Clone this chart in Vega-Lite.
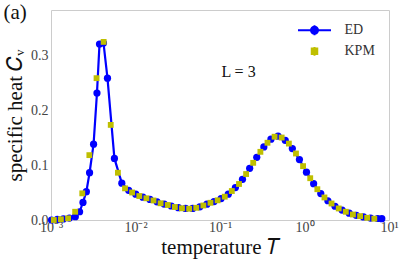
{
  "$schema": "https://vega.github.io/schema/vega-lite/v6.json",
  "autosize": "none",
  "width": 338,
  "height": 210,
  "padding": {"left": 51, "top": 10, "right": 18, "bottom": 41},
  "background": "white",
  "config": {
    "view": {"stroke": "#cccccc", "strokeWidth": 1},
    "font": "Liberation Serif"
  },
  "title": {
    "text": "(a)",
    "anchor": "start",
    "frame": "bounds",
    "font": "Liberation Serif",
    "fontSize": 21,
    "fontWeight": "normal",
    "color": "#111111",
    "offset": 0,
    "dx": -1,
    "dy": 13
  },
  "datasets": {
    "ed": [
      {"T": 0.001015, "C": 0.0, "series": "ED"},
      {"T": 0.00119, "C": 0.001, "series": "ED"},
      {"T": 0.0014, "C": 0.002, "series": "ED"},
      {"T": 0.00165, "C": 0.0036, "series": "ED"},
      {"T": 0.00194, "C": 0.006, "series": "ED"},
      {"T": 0.00218, "C": 0.015, "series": "ED"},
      {"T": 0.00239, "C": 0.032, "series": "ED"},
      {"T": 0.00262, "C": 0.0515, "series": "ED"},
      {"T": 0.00286, "C": 0.086, "series": "ED"},
      {"T": 0.00319, "C": 0.138, "series": "ED"},
      {"T": 0.0035, "C": 0.231, "series": "ED"},
      {"T": 0.00375, "C": 0.32, "series": "ED"},
      {"T": 0.00418, "C": 0.322, "series": "ED"},
      {"T": 0.00466, "C": 0.258, "series": "ED"},
      {"T": 0.00563, "C": 0.112, "series": "ED"},
      {"T": 0.00689, "C": 0.067, "series": "ED"},
      {"T": 0.0083, "C": 0.054, "series": "ED"},
      {"T": 0.01007, "C": 0.047, "series": "ED"},
      {"T": 0.01222, "C": 0.0415, "series": "ED"},
      {"T": 0.01483, "C": 0.0375, "series": "ED"},
      {"T": 0.01799, "C": 0.033, "series": "ED"},
      {"T": 0.02188, "C": 0.029, "series": "ED"},
      {"T": 0.02655, "C": 0.0255, "series": "ED"},
      {"T": 0.03221, "C": 0.0225, "series": "ED"},
      {"T": 0.03908, "C": 0.021, "series": "ED"},
      {"T": 0.04742, "C": 0.021, "series": "ED"},
      {"T": 0.05768, "C": 0.024, "series": "ED"},
      {"T": 0.06998, "C": 0.0287, "series": "ED"},
      {"T": 0.08492, "C": 0.0335, "series": "ED"},
      {"T": 0.103, "C": 0.039, "series": "ED"},
      {"T": 0.1253, "C": 0.047, "series": "ED"},
      {"T": 0.1521, "C": 0.059, "series": "ED"},
      {"T": 0.1845, "C": 0.074, "series": "ED"},
      {"T": 0.2244, "C": 0.094, "series": "ED"},
      {"T": 0.2723, "C": 0.114, "series": "ED"},
      {"T": 0.3304, "C": 0.133, "series": "ED"},
      {"T": 0.4009, "C": 0.147, "series": "ED"},
      {"T": 0.4864, "C": 0.1525, "series": "ED"},
      {"T": 0.5916, "C": 0.145, "series": "ED"},
      {"T": 0.7178, "C": 0.13, "series": "ED"},
      {"T": 0.871, "C": 0.11, "series": "ED"},
      {"T": 1.055, "C": 0.087, "series": "ED"},
      {"T": 1.282, "C": 0.066, "series": "ED"},
      {"T": 1.558, "C": 0.048, "series": "ED"},
      {"T": 1.891, "C": 0.035, "series": "ED"},
      {"T": 2.296, "C": 0.025, "series": "ED"},
      {"T": 2.786, "C": 0.018, "series": "ED"},
      {"T": 3.381, "C": 0.0125, "series": "ED"},
      {"T": 4.102, "C": 0.0085, "series": "ED"},
      {"T": 4.989, "C": 0.0055, "series": "ED"},
      {"T": 6.053, "C": 0.0035, "series": "ED"},
      {"T": 7.345, "C": 0.0027, "series": "ED"},
      {"T": 8.22, "C": 0.0024, "series": "ED"}
    ],
    "kpm": [
      {"T": 0.001079, "C": 0.0, "series": "KPM"},
      {"T": 0.00131, "C": 0.0013, "series": "KPM"},
      {"T": 0.001592, "C": 0.003, "series": "KPM"},
      {"T": 0.001932, "C": 0.015, "series": "KPM"},
      {"T": 0.002344, "C": 0.0485, "series": "KPM"},
      {"T": 0.002844, "C": 0.118, "series": "KPM"},
      {"T": 0.003459, "C": 0.258, "series": "KPM"},
      {"T": 0.004198, "C": 0.324, "series": "KPM"},
      {"T": 0.005093, "C": 0.173, "series": "KPM"},
      {"T": 0.006194, "C": 0.086, "series": "KPM"},
      {"T": 0.007516, "C": 0.0576, "series": "KPM"},
      {"T": 0.00912, "C": 0.05, "series": "KPM"},
      {"T": 0.01109, "C": 0.0436, "series": "KPM"},
      {"T": 0.01346, "C": 0.0395, "series": "KPM"},
      {"T": 0.01633, "C": 0.0355, "series": "KPM"},
      {"T": 0.01982, "C": 0.0304, "series": "KPM"},
      {"T": 0.0241, "C": 0.0273, "series": "KPM"},
      {"T": 0.02924, "C": 0.0236, "series": "KPM"},
      {"T": 0.03548, "C": 0.0213, "series": "KPM"},
      {"T": 0.04315, "C": 0.0205, "series": "KPM"},
      {"T": 0.05236, "C": 0.0222, "series": "KPM"},
      {"T": 0.06353, "C": 0.0264, "series": "KPM"},
      {"T": 0.07709, "C": 0.0313, "series": "KPM"},
      {"T": 0.09376, "C": 0.0358, "series": "KPM"},
      {"T": 0.1138, "C": 0.0424, "series": "KPM"},
      {"T": 0.138, "C": 0.0527, "series": "KPM"},
      {"T": 0.1679, "C": 0.0655, "series": "KPM"},
      {"T": 0.2037, "C": 0.0836, "series": "KPM"},
      {"T": 0.2472, "C": 0.104, "series": "KPM"},
      {"T": 0.3006, "C": 0.124, "series": "KPM"},
      {"T": 0.3648, "C": 0.1405, "series": "KPM"},
      {"T": 0.4426, "C": 0.1515, "series": "KPM"},
      {"T": 0.537, "C": 0.15, "series": "KPM"},
      {"T": 0.6531, "C": 0.139, "series": "KPM"},
      {"T": 0.7925, "C": 0.121, "series": "KPM"},
      {"T": 0.9616, "C": 0.098, "series": "KPM"},
      {"T": 1.169, "C": 0.076, "series": "KPM"},
      {"T": 1.419, "C": 0.056, "series": "KPM"},
      {"T": 1.722, "C": 0.041, "series": "KPM"},
      {"T": 2.089, "C": 0.03, "series": "KPM"},
      {"T": 2.541, "C": 0.021, "series": "KPM"},
      {"T": 3.083, "C": 0.015, "series": "KPM"},
      {"T": 3.741, "C": 0.01, "series": "KPM"},
      {"T": 4.55, "C": 0.007, "series": "KPM"},
      {"T": 5.521, "C": 0.004, "series": "KPM"},
      {"T": 6.699, "C": 0.0024, "series": "KPM"}
    ],
    "note": [
      {"T": 0.104, "C": 0.269, "label": "L = 3"}
    ]
  },
  "encoding": {
    "x": {
      "field": "T",
      "type": "quantitative",
      "scale": {"type": "log", "domain": [0.001, 10], "nice": false},
      "axis": {
        "values": [0.001, 0.01, 0.1, 1, 10],
        "labelExpr": "datum.value < 0.005 ? '10⁻³' : datum.value < 0.05 ? '10⁻²' : datum.value < 0.5 ? '10⁻¹' : datum.value < 5 ? '10⁰' : '10¹'",
        "labelFont": "Liberation Serif",
        "labelFontSize": 14,
        "labelColor": "#444444",
        "labelPadding": 0,
        "labelOverlap": false,
        "labelFlush": false,
        "labelBound": false,
        "ticks": false,
        "domain": false,
        "grid": false,
        "title": "temperature 𝑇",
        "titleFont": "Liberation Serif",
        "titleFontSize": 21,
        "titleFontWeight": "normal",
        "titleColor": "#111111",
        "titlePadding": 2
      }
    },
    "y": {
      "field": "C",
      "type": "quantitative",
      "scale": {"domain": [0, 0.382], "nice": false},
      "axis": {
        "values": [0, 0.1, 0.2, 0.3],
        "format": ".1f",
        "labelFont": "Liberation Serif",
        "labelFontSize": 14,
        "labelColor": "#444444",
        "labelPadding": 3,
        "ticks": false,
        "domain": false,
        "grid": false,
        "title": "specific heat 𝐶ᵥ",
        "titleFont": "Liberation Serif",
        "titleFontSize": 21,
        "titleFontWeight": "normal",
        "titleColor": "#111111",
        "titlePadding": 5
      }
    }
  },
  "layer": [
    {
      "data": {"name": "ed"},
      "mark": {"type": "line", "color": "#0000ff", "strokeWidth": 2.2},
      "encoding": {}
    },
    {
      "data": {"name": "ed"},
      "mark": {"type": "point", "shape": "circle", "filled": true, "size": 52, "opacity": 1, "color": "#0000ff"},
      "encoding": {}
    },
    {
      "data": {"name": "kpm"},
      "mark": {"type": "point", "shape": "square", "filled": true, "size": 34, "opacity": 1, "color": "#bfbf00"},
      "encoding": {}
    },
    {
      "data": {"name": "kpm"},
      "transform": [{"filter": "false"}],
      "mark": {"type": "point", "filled": true, "opacity": 1, "strokeWidth": 2},
      "encoding": {
        "color": {
          "field": "series",
          "type": "nominal",
          "scale": {"domain": ["ED", "KPM"], "range": ["#0000ff", "#bfbf00"]},
          "legend": {
            "title": null,
            "orient": "none",
            "legendX": 251.5,
            "legendY": 8.3,
            "padding": 0,
            "symbolSize": 484,
            "symbolStrokeWidth": 2,
            "labelOffset": 18,
            "rowPadding": 0,
            "labelFont": "Liberation Serif",
            "labelFontSize": 14,
            "labelColor": "#333333"
          }
        },
        "stroke": {
          "field": "series",
          "type": "nominal",
          "scale": {"domain": ["ED", "KPM"], "range": ["#0000ff", "#bfbf00"]},
          "legend": {
            "title": null,
            "orient": "none",
            "legendX": 251.5,
            "legendY": 8.3,
            "padding": 0,
            "symbolSize": 484,
            "symbolStrokeWidth": 2,
            "labelOffset": 18,
            "rowPadding": 0,
            "labelFont": "Liberation Serif",
            "labelFontSize": 14,
            "labelColor": "#333333"
          }
        },
        "shape": {
          "field": "series",
          "type": "nominal",
          "scale": {"domain": ["ED", "KPM"], "range": ["M-1.5,0H1.5M0,-0.45V0.45M0.32,0A0.32,0.32,0,1,1,-0.32,0A0.32,0.32,0,1,1,0.32,0Z", "M0,-0.4V0.4M-0.25,-0.25H0.25V0.25H-0.25Z"]},
          "legend": {
            "title": null,
            "orient": "none",
            "legendX": 251.5,
            "legendY": 8.3,
            "padding": 0,
            "symbolSize": 484,
            "symbolStrokeWidth": 2,
            "labelOffset": 18,
            "rowPadding": 0,
            "labelFont": "Liberation Serif",
            "labelFontSize": 14,
            "labelColor": "#333333"
          }
        }
      }
    },
    {
      "data": {"name": "note"},
      "mark": {"type": "text", "align": "left", "baseline": "middle", "font": "Liberation Serif", "fontSize": 16, "color": "#111111"},
      "encoding": {
        "text": {"field": "label"}
      }
    }
  ]
}
